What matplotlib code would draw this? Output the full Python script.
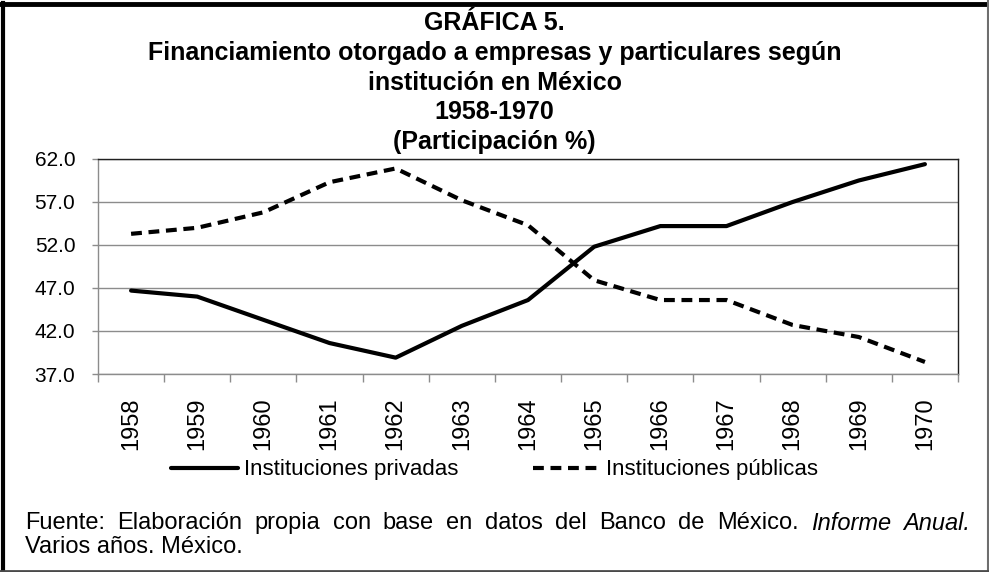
import numpy as np
import matplotlib.pyplot as plt
from matplotlib.lines import Line2D

# Datos (participacion %)
years = ['1958', '1959', '1960', '1961', '1962', '1963', '1964',
         '1965', '1966', '1967', '1968', '1969', '1970']
privadas = [46.7, 46.0, 43.3, 40.6, 38.9, 42.6, 45.6,
            51.8, 54.2, 54.2, 57.0, 59.5, 61.4]
publicas = [53.3, 54.0, 55.8, 59.3, 60.9, 57.2, 54.3,
            47.9, 45.6, 45.6, 42.7, 41.3, 38.4]
y_ticks = [37.0, 42.0, 47.0, 52.0, 57.0, 62.0]

plt.rcParams['font.family'] = ['Liberation Sans', 'DejaVu Sans']

fig = plt.figure(figsize=(9.89, 5.72), dpi=100)
W, H = 989, 572

# plot area in pixels: x 98..958, y 159..374
ax = fig.add_axes([98 / W, 1 - 374 / H, 860 / W, 215 / H])

x = np.arange(len(years))
ax.plot(x, privadas, color='black', lw=3.0, solid_capstyle='round',
        label='Instituciones privadas')
ax.plot(x, publicas, color='black', lw=3.0, dashes=(2.6, 1.6),
        dash_capstyle='butt', label='Instituciones públicas')

ax.set_xlim(-0.5, len(years) - 0.5)
ax.set_ylim(37, 62)
ax.set_yticks(y_ticks)
ax.set_yticklabels(['%.1f' % v for v in y_ticks], fontsize=15)
ax.yaxis.grid(True, color='#8c8c8c', lw=1.0)
ax.set_axisbelow(True)

# category boundaries get the tick marks, labels sit in the middle
ax.set_xticks(np.arange(len(years) + 1) - 0.5)
ax.set_xticklabels([])
ax.set_xticks(x, minor=True)
ax.set_xticklabels(years, minor=True, rotation=90, fontsize=17)
ax.tick_params(axis='x', which='major', length=6, color='#8c8c8c', width=1)
ax.tick_params(axis='x', which='minor', length=0, pad=17)
ax.tick_params(axis='y', length=4.3, color='#8c8c8c', width=1, pad=12)

for s in ['left', 'bottom']:
    ax.spines[s].set_color('#8c8c8c')
for s in ['top', 'right']:
    ax.spines[s].set_color('#202020')
for s in ax.spines.values():
    s.set_linewidth(1.0)

# titulo
titulo = ['GRÁFICA 5.',
          'Financiamiento otorgado a empresas y particulares según',
          'institución en México',
          '1958-1970',
          '(Participación %)']
base = [30, 60, 90, 119, 149]
for t, yy in zip(titulo, base):
    fig.text(0.5, 1 - yy / H, t, ha='center', va='baseline',
             fontsize=18, fontweight='bold')

# leyenda
fig.legend(handles=ax.get_lines(), loc='center', ncol=2,
           bbox_to_anchor=(0.5, 1 - 470 / H), frameon=False, fontsize=16,
           handlelength=3.0, handletextpad=0.25, columnspacing=3.4)

# fuente: primera linea justificada entre x=25 y x=970
palabras = ['Fuente:', 'Elaboración', 'propia', 'con', 'base', 'en', 'datos',
            'del', 'Banco', 'de', 'México.', 'Informe', 'Anual.']
italica = [False] * 11 + [True, True]
renderer = fig.canvas.get_renderer()
textos = []
for p, it in zip(palabras, italica):
    textos.append(fig.text(0, 1 - 523 / H, p, ha='left', va='center',
                           fontsize=17, style='italic' if it else 'normal'))
anchos = [t.get_window_extent(renderer).width for t in textos]
hueco = (970 - 25 - sum(anchos)) / (len(textos) - 1)
xx = 25
for t, a in zip(textos, anchos):
    t.set_x(xx / W)
    xx += a + hueco
fig.text(25 / W, 1 - 547 / H, 'Varios años. México.', ha='left',
         va='center', fontsize=17)

# marco exterior
fig.add_artist(Line2D([3 / W, 3 / W], [0, 1 - 3 / H], color='black', lw=3))
fig.add_artist(Line2D([0, 1], [1 - 3.5 / H, 1 - 3.5 / H], color='black', lw=3.5))
fig.add_artist(Line2D([1 - 1.5 / W, 1 - 1.5 / W], [0, 1], color='#6e6e6e', lw=1.5))
fig.add_artist(Line2D([0, 1], [1.5 / H, 1.5 / H], color='#4a4a4a', lw=2))

fig.savefig('out.png', dpi=100)
